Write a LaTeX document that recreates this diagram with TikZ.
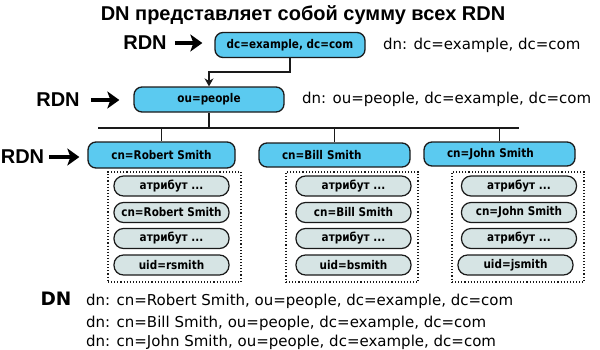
\documentclass[tikz,border=0pt]{standalone}
\usepackage{fontspec}
\setmainfont{DejaVu Sans}
\newfontfamily\arialfont{Liberation Sans}
\newfontfamily\condfont{DejaVu Sans}[FakeStretch=0.87]
\usetikzlibrary{arrows.meta}
\definecolor{boxblue}{HTML}{5BCAF0}
\definecolor{pillgray}{HTML}{D6E4E4}
\definecolor{edge}{HTML}{1A1A1A}
\begin{document}
\begin{tikzpicture}[x=1pt,y=-1pt,
  bluebox/.style={draw=edge, line width=1.3pt, fill=boxblue, rounded corners=8pt, minimum height=25pt, inner sep=0pt, font=\condfont\fontsize{12}{14}\selectfont\bfseries},
  leftbox/.style={bluebox, minimum width=151pt, minimum height=24pt, text width=105pt, align=left},
  pill/.style={draw=edge, line width=1.2pt, fill=pillgray, rounded corners=9.5pt, minimum width=115pt, minimum height=20pt, inner sep=0pt, font=\condfont\fontsize{12}{14}\selectfont\bfseries},
  attrbox/.style={draw=edge, line width=1.1pt, dotted, minimum width=132pt, minimum height=110pt, inner sep=0pt},
  rdn/.style={font=\arialfont\fontsize{20}{24}\selectfont\bfseries, inner sep=0pt},
  dntext/.style={font=\fontsize{15}{18}\selectfont, inner sep=0pt, anchor=base west},
  bigarrow/.style={draw=black, line width=4.5pt, -{Stealth[length=12pt,width=17pt,inset=3pt]}},
  conn/.style={draw=edge, line width=1.3pt}
]
\useasboundingbox (0,0) rectangle (600,349);

% title
\node[font=\arialfont\fontsize{20}{24}\selectfont\bfseries, inner sep=0pt] (title) at (303,15) {DN представляет собой сумму всех RDN};

% tree nodes
\node[bluebox, minimum width=150pt] (n1) at (290,45) {dc=example, dc=com};
\node[bluebox, minimum width=150pt] (n2) at (209,99.5) {ou=people};
\node[bluebox, minimum width=147pt, minimum height=26pt] (rob) at (161.5,155) {cn=Robert Smith};
\node[leftbox] (bill) at (334.5,155) {cn=Bill Smith};
\node[leftbox] (john) at (499.5,154) {cn=John Smith};

% RDN labels and arrows
\node[rdn] (r1) at (145,43) {RDN};
\node[rdn] (r2) at (58,100) {RDN};
\node[rdn] (r3) at (22.5,157) {RDN};
\draw[bigarrow, shorten <=8pt, shorten >=12pt] (r1.east) -- (r1.east -| n1.west);
\draw[bigarrow, shorten <=11pt, shorten >=14pt] (r2.east) -- (r2.east -| n2.west);
\draw[bigarrow, shorten <=5pt, shorten >=8pt] (r3.east) -- (r3.east -| rob.west);

% connectors
\coordinate (j1) at (209,72);
\draw[conn, -{Stealth[length=8pt,width=9pt]}] (n1.south) |- (j1) -- (n2.north);
\coordinate (busL) at (98,128);
\coordinate (busR) at (519,128);
\draw[conn] (busL) -- (busR);
\draw[conn] (n2.south) -- (n2.south |- busL);
\draw[conn] (rob.north |- busL) -- (rob.north);
\draw[conn] (bill.north |- busL) -- (bill.north);
\draw[conn] (john.north |- busL) -- (john.north);

% dn texts
\node[dntext] (d1) at (383,49) {dn: dc=example, dc=com};
\node[dntext] (d2) at (302,103) {dn: ou=people, dc=example, dc=com};

% attribute boxes
\node[attrbox, minimum width=133pt] (ra) at (174.5,227) {};
\node[attrbox] (ba) at (352,227) {};
\node[attrbox] (ja) at (518,227) {};

\node[pill] (ra1) at (171.5,186) {атрибут ...};
\node[pill] (ra2) at (171.5,212.5) {cn=Robert Smith};
\node[pill] (ra3) at (171.5,238.5) {атрибут ...};
\node[pill] (ra4) at (171.5,265) {uid=rsmith};

\node[pill] (ba1) at (353.5,186) {атрибут ...};
\node[pill] (ba2) at (353.5,212.5) {cn=Bill Smith};
\node[pill] (ba3) at (353.5,238.5) {атрибут ...};
\node[pill] (ba4) at (353.5,265) {uid=bsmith};

\node[pill] (ja1) at (519,186) {атрибут ...};
\node[pill] (ja2) at (519,212.5) {cn=John Smith};
\node[pill] (ja3) at (519,238.5) {атрибут ...};
\node[pill] (ja4) at (515.5,265) {uid=jsmith};

% bottom DN
\node[font=\fontsize{18.5}{22}\selectfont\bfseries, inner sep=0pt] (dn) at (56,299) {DN};
\node[dntext] (b1) at (86,305) {dn: cn=Robert Smith, ou=people, dc=example, dc=com};
\node[dntext] (b2) at (86,327) {dn: cn=Bill Smith, ou=people, dc=example, dc=com};
\node[dntext] (b3) at (86,346) {dn: cn=John Smith, ou=people, dc=example, dc=com};
\end{tikzpicture}
\end{document}
